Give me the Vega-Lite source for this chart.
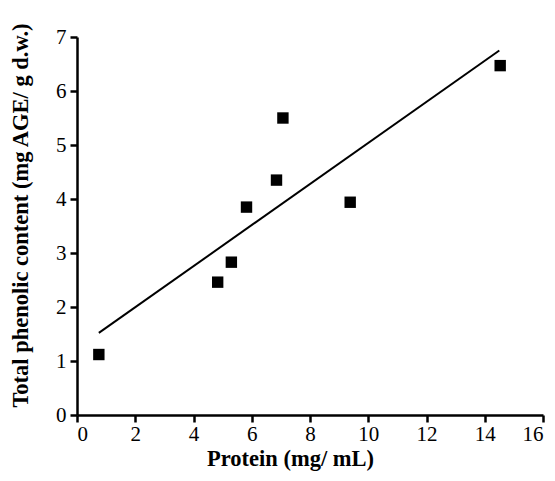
{
  "$schema": "https://vega.github.io/schema/vega-lite/v6.json",
  "width": 466,
  "height": 378,
  "autosize": "none",
  "padding": {"left": 77, "top": 37, "right": 12, "bottom": 66},
  "background": "white",
  "config": {
    "view": {"stroke": null},
    "axis": {
      "grid": false,
      "domainColor": "black",
      "domainWidth": 2.5,
      "tickColor": "black",
      "tickWidth": 2.5,
      "labelColor": "black",
      "labelFont": "Liberation Serif",
      "labelFontSize": 21,
      "titleFont": "Liberation Serif",
      "titleFontSize": 22.5,
      "titleFontWeight": "bold",
      "titleColor": "black",
      "labelOverlap": false
    }
  },
  "layer": [
    {
      "data": {"values": [
        {"protein": 0.75, "phenolic": 1.12},
        {"protein": 4.83, "phenolic": 2.46},
        {"protein": 5.3, "phenolic": 2.83},
        {"protein": 5.82, "phenolic": 3.85},
        {"protein": 6.85, "phenolic": 4.35},
        {"protein": 7.07, "phenolic": 5.5},
        {"protein": 9.38, "phenolic": 3.94},
        {"protein": 14.53, "phenolic": 6.47}
      ]},
      "mark": {"type": "point", "shape": "square", "filled": true, "color": "black", "opacity": 1, "size": 130},
      "encoding": {
        "x": {
          "field": "protein", "type": "quantitative",
          "scale": {"domain": [0, 16], "nice": false, "zero": false},
          "axis": {
            "title": "Protein (mg/ mL)",
            "values": [0,1,2,3,4,5,6,7,8,9,10,11,12,13,14,15,16],
            "labelExpr": "datum.value % 2 === 0 ? datum.label : ''",
            "tickSize": {"condition": {"test": "datum.value % 2 === 0", "value": 7}, "value": 4},
            "labelPadding": 1,
            "titlePadding": 3,
            "titleX": 213
          }
        },
        "y": {
          "field": "phenolic", "type": "quantitative",
          "scale": {"domain": [0, 7], "nice": false},
          "axis": {
            "title": "Total phenolic content (mg AGE/ g d.w.)",
            "values": [0,0.5,1,1.5,2,2.5,3,3.5,4,4.5,5,5.5,6,6.5,7],
            "labelExpr": "datum.value % 1 === 0 ? datum.value : ''",
            "tickSize": {"condition": {"test": "datum.value % 1 === 0", "value": 7}, "value": 4},
            "labelPadding": 4,
            "titlePadding": 23,
            "titleY": 178
          }
        }
      }
    },
    {
      "data": {"values": [
        {"protein": 0.75, "phenolic": 1.52},
        {"protein": 14.5, "phenolic": 6.75}
      ]},
      "mark": {"type": "line", "color": "black", "strokeWidth": 2},
      "encoding": {
        "x": {"field": "protein", "type": "quantitative"},
        "y": {"field": "phenolic", "type": "quantitative"}
      }
    }
  ]
}
